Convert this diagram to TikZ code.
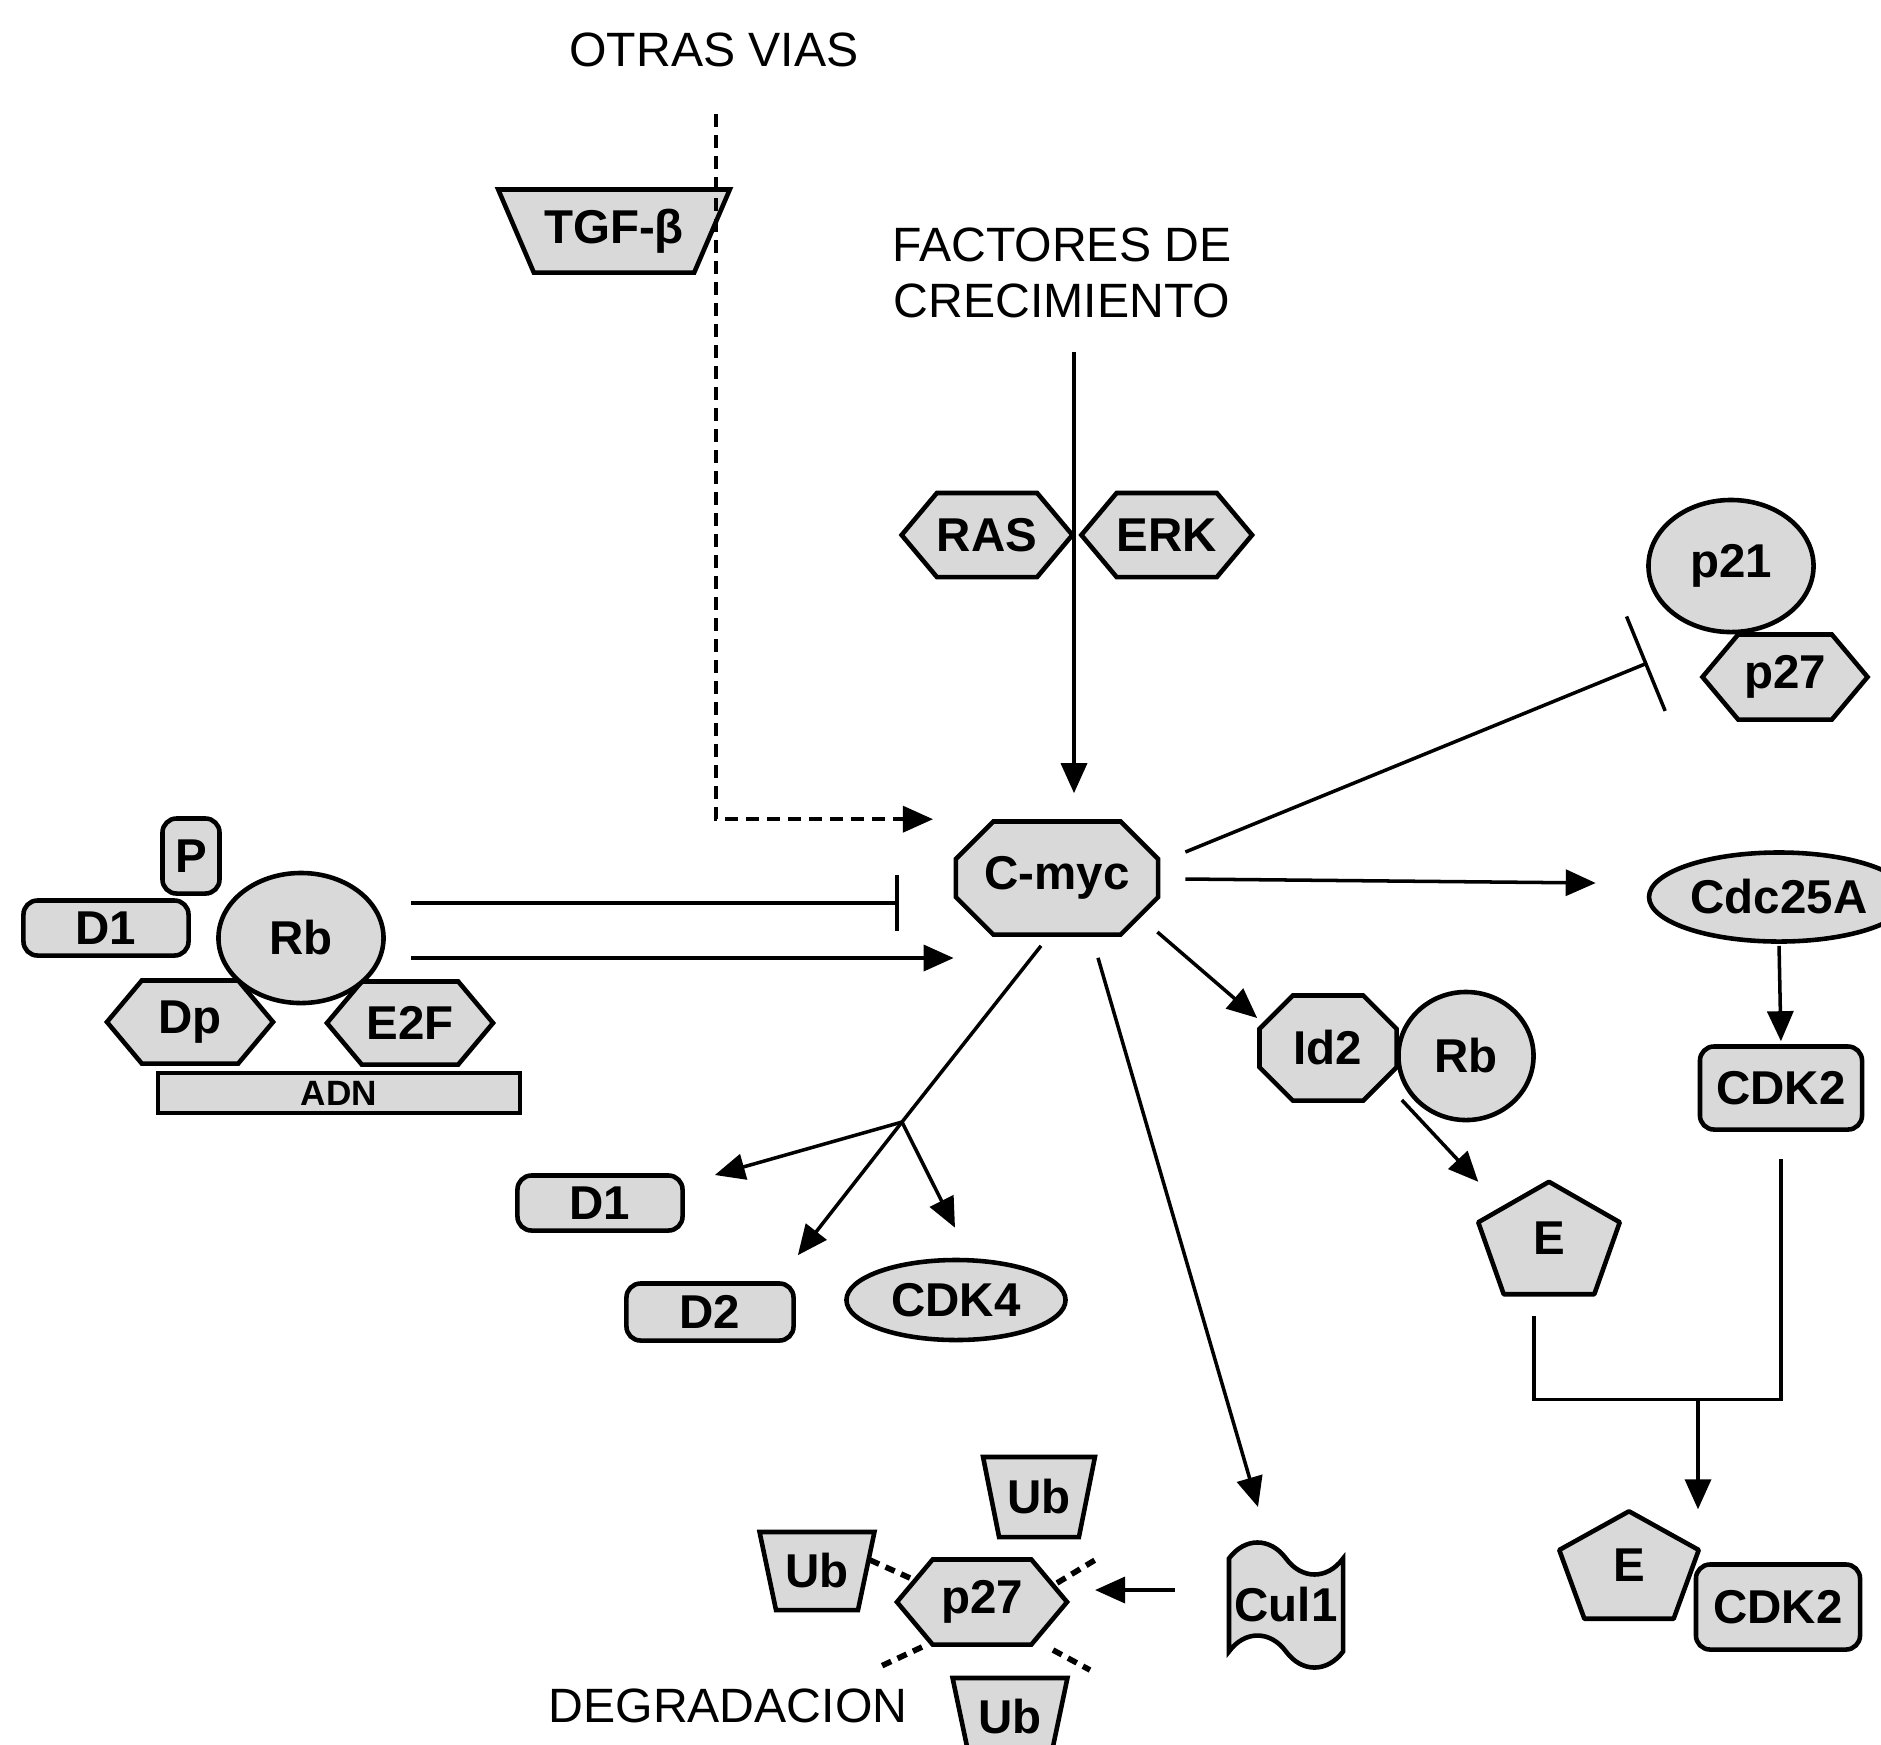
\documentclass[tikz,border=0pt]{standalone}
\usepackage{fontspec}
\setmainfont{Liberation Sans}
\usetikzlibrary{arrows.meta,calc,positioning,backgrounds,shapes.geometric,shapes.misc,shapes.symbols}

% pentagon drawn behind a plain label node
\newcommand{\pentshape}[1]{%
  \begin{scope}[on background layer]
    \draw[line width=1.3pt, line join=round, fill=black!15] (#1.north)
      -- ($(#1.north east)!0.36!(#1.south east)$)
      -- ($(#1.south east)!0.18!(#1.south west)$)
      -- ($(#1.south west)!0.18!(#1.south east)$)
      -- ($(#1.north west)!0.36!(#1.south west)$) -- cycle;
  \end{scope}}

\tikzset{
  mol/.style={draw, line width=1.3pt, fill=black!15, inner sep=1pt,
    font=\fontsize{13.5}{15}\selectfont\bfseries},
  molbox/.style={mol, rectangle, rounded corners=4pt},
  molell/.style={mol, ellipse},
  molhex/.style={mol, signal, signal to=west and east, signal pointer angle=100, inner sep=0pt},
  moloct/.style={mol, chamfered rectangle, chamfered rectangle angle=45,
    chamfered rectangle xsep=0.3cm},
  moltrap/.style={mol, trapezium, trapezium stretches=true, shape border rotate=180, inner sep=0pt},
  pentlbl/.style={inner sep=0pt, font=\fontsize{13.5}{15}\selectfont\bfseries},
  lbl/.style={font=\fontsize{13.7}{16}\selectfont, align=center},
  myarrow/.style={-{Triangle[length=0.3cm,width=0.26cm]}, line width=1pt},
  myinhib/.style={-{Bar[width=#1]}, line width=1pt},
  dasharrow/.style={myarrow, dash pattern=on 0.13cm off 0.08cm},
  ublink/.style={line width=1.6pt, dash pattern=on 0.1cm off 0.07cm}
}

\begin{document}
\begin{tikzpicture}[x=0.01cm, y=-0.01cm]
\useasboundingbox (0,0) rectangle (1881,1744);

% free labels
\node[lbl] (otras) at (714,50) {OTRAS VIAS};
\node[lbl] (factores) at (1062,273) {FACTORES DE\\CRECIMIENTO};
\node[lbl] (degrad) at (728,1706) {DEGRADACION};

% upstream signals
\node[moltrap, trapezium angle=55, minimum width=2.32cm, minimum height=0.83cm] (tgf) at (614,231) {TGF-β};
\node[molhex, minimum width=1.65cm, minimum height=0.84cm] (ras) at (987,535) {RAS};
\node[molhex, minimum width=1.65cm, minimum height=0.84cm, right=0.03cm of ras] (erk) {ERK};
\node[moloct, minimum width=1.95cm, minimum height=1.13cm] (cmyc) at (1057,878) {C-myc};

% Rb / E2F complex on DNA
\node[molbox, minimum width=1.65cm, minimum height=0.55cm] (d1a) at (106,928) {D1};
\node[molbox, minimum width=0.57cm, minimum height=0.75cm] (p) at (191,856) {P};
\node[molhex, minimum width=1.66cm, minimum height=0.83cm] (dp) at (190,1022) {Dp};
\node[molhex, minimum width=1.66cm, minimum height=0.83cm] (e2f) at (410,1023) {E2F};
\node[molell, minimum width=1.65cm, minimum height=1.3cm] (rb) at (301,938) {Rb};
\node[mol, rectangle, inner sep=0pt, minimum width=3.62cm, minimum height=0.4cm,
  font=\fontsize{10}{11}\selectfont\bfseries] (adn) at (339,1093) {ADN};

% inhibitors and Cdc25A branch
\node[molell, minimum width=1.65cm, minimum height=1.32cm] (p21) at (1731,566) {p21};
\node[molhex, minimum width=1.65cm, minimum height=0.85cm] (p27) at (1785,677) {p27};
\node[molell, minimum width=2.06cm, minimum height=0.89cm] (cdc) at (1779,897) {Cdc25A};
\node[molbox, minimum width=1.62cm, minimum height=0.83cm] (cdk2a) at (1781,1088) {CDK2};

% Id2 / Rb and cyclin E
\node[moloct, chamfered rectangle xsep=0.33cm, minimum width=1.37cm, minimum height=1.05cm] (id2) at (1328,1048) {Id2};
\node[molell, minimum width=1.35cm, minimum height=1.28cm] (rb2) at (1466,1056) {Rb};
\node[pentlbl, minimum width=1.4cm, minimum height=1.11cm] (e1) at (1549,1238) {E};
\pentshape{e1}
\node[pentlbl, minimum width=1.38cm, minimum height=1.06cm] (e2) at (1629,1565) {E};
\pentshape{e2}
\node[molbox, minimum width=1.64cm, minimum height=0.85cm] (cdk2b) at (1778,1607) {CDK2};

% cyclins D and CDK4
\node[molbox, minimum width=1.65cm, minimum height=0.55cm] (d1b) at (600,1203) {D1};
\node[molbox, minimum width=1.67cm, minimum height=0.57cm] (d2) at (710,1312) {D2};
\node[molell, minimum width=2.19cm, minimum height=0.8cm] (cdk4) at (956,1300) {CDK4};

% p27 degradation
\node[mol, tape, tape bend top=out and in, tape bend bottom=out and in, tape bend height=0.32cm,
  minimum width=1.14cm, minimum height=1.25cm] (cul) at (1286,1605) {Cul1};
\node[molhex, minimum width=1.7cm, minimum height=0.85cm] (p27b) at (982,1602) {p27};
\node[moltrap, trapezium angle=70, minimum width=1.15cm, minimum height=0.78cm] (ubl) at (817,1571) {Ub};
\node[moltrap, trapezium angle=70, minimum width=1.12cm, minimum height=0.8cm] (ubt) at (1039,1497) {Ub};
\node[moltrap, trapezium angle=70, minimum width=1.15cm, minimum height=0.78cm] (ubb) at (1010,1717) {Ub};

% connectors
\coordinate (tgfin) at (716,114);
\coordinate (gfin) at (1074,352);
\draw[dasharrow] (tgfin) |- ($(cmyc.north)+(-124,0)$);
\draw[myarrow, shorten >=0.26cm] (gfin) -- (gfin |- cmyc.north);
\draw[myinhib=0.56cm] ($(rb.east)+(25,-35)$) -- ($(cmyc.west)+(-55,25)$);
\draw[myarrow] ($(rb.east)+(25,20)$) -- ($(cmyc.west)+(0,80)$);
\draw[myinhib=1.02cm] ($(cmyc.east)+(25,-26)$) -- ($(p27.west)+(-52,-14)$);
\draw[myarrow] ($(cmyc.east)+(25,1)$) -- ($(cdc.west)+(-51,-14)$);
\draw[myarrow] ($(cmyc.east)+(-3,54)$) -- ($(id2.west)+(0,-30)$);

\coordinate (fork) at (902,1122);
\draw[line width=1pt] ($(cmyc.south)+(-16,9)$) -- (fork);
\draw[myarrow] (fork) -- ($(d1b.east)+(30,-28)$);
\draw[myarrow] (fork) -- ($(d2.north east)+(2,-26)$);
\draw[myarrow] (fork) -- ($(cdk4.north)+(-1,-30)$);
\draw[myarrow] ($(cmyc.south)+(41,21)$) -- ($(cul.center)+(-28,-98)$);

\draw[myarrow, shorten <=0.02cm, shorten >=0.03cm] (cdc.south) -- (cdk2a.north);
\draw[myarrow] ($(id2.east)+(3,52)$) -- (e1.north west);
\draw[line width=1pt] ($(e1.south)+(-15,22)$) -- ++(0,83) -| ($(cdk2a.south)+(0,27)$);
\coordinate (join) at (1698,1398);
\draw[myarrow] (join) -- ($(e2.north)+(69,-2)$);

\draw[myarrow] ($(cul.west)+(-52,-15)$) -- ($(p27b.east)+(25,-12)$);
\draw[ublink] ($(p27b)+(-112,-42)$) -- ($(p27b)+(-72,-24)$);
\draw[ublink] ($(p27b)+(75,-19)$) -- ($(p27b)+(113,-42)$);
\draw[ublink] ($(p27b)+(-60,45)$) -- ($(p27b)+(-105,66)$);
\draw[ublink] ($(p27b)+(71,48)$) -- ($(p27b)+(108,68)$);
\end{tikzpicture}
\end{document}
